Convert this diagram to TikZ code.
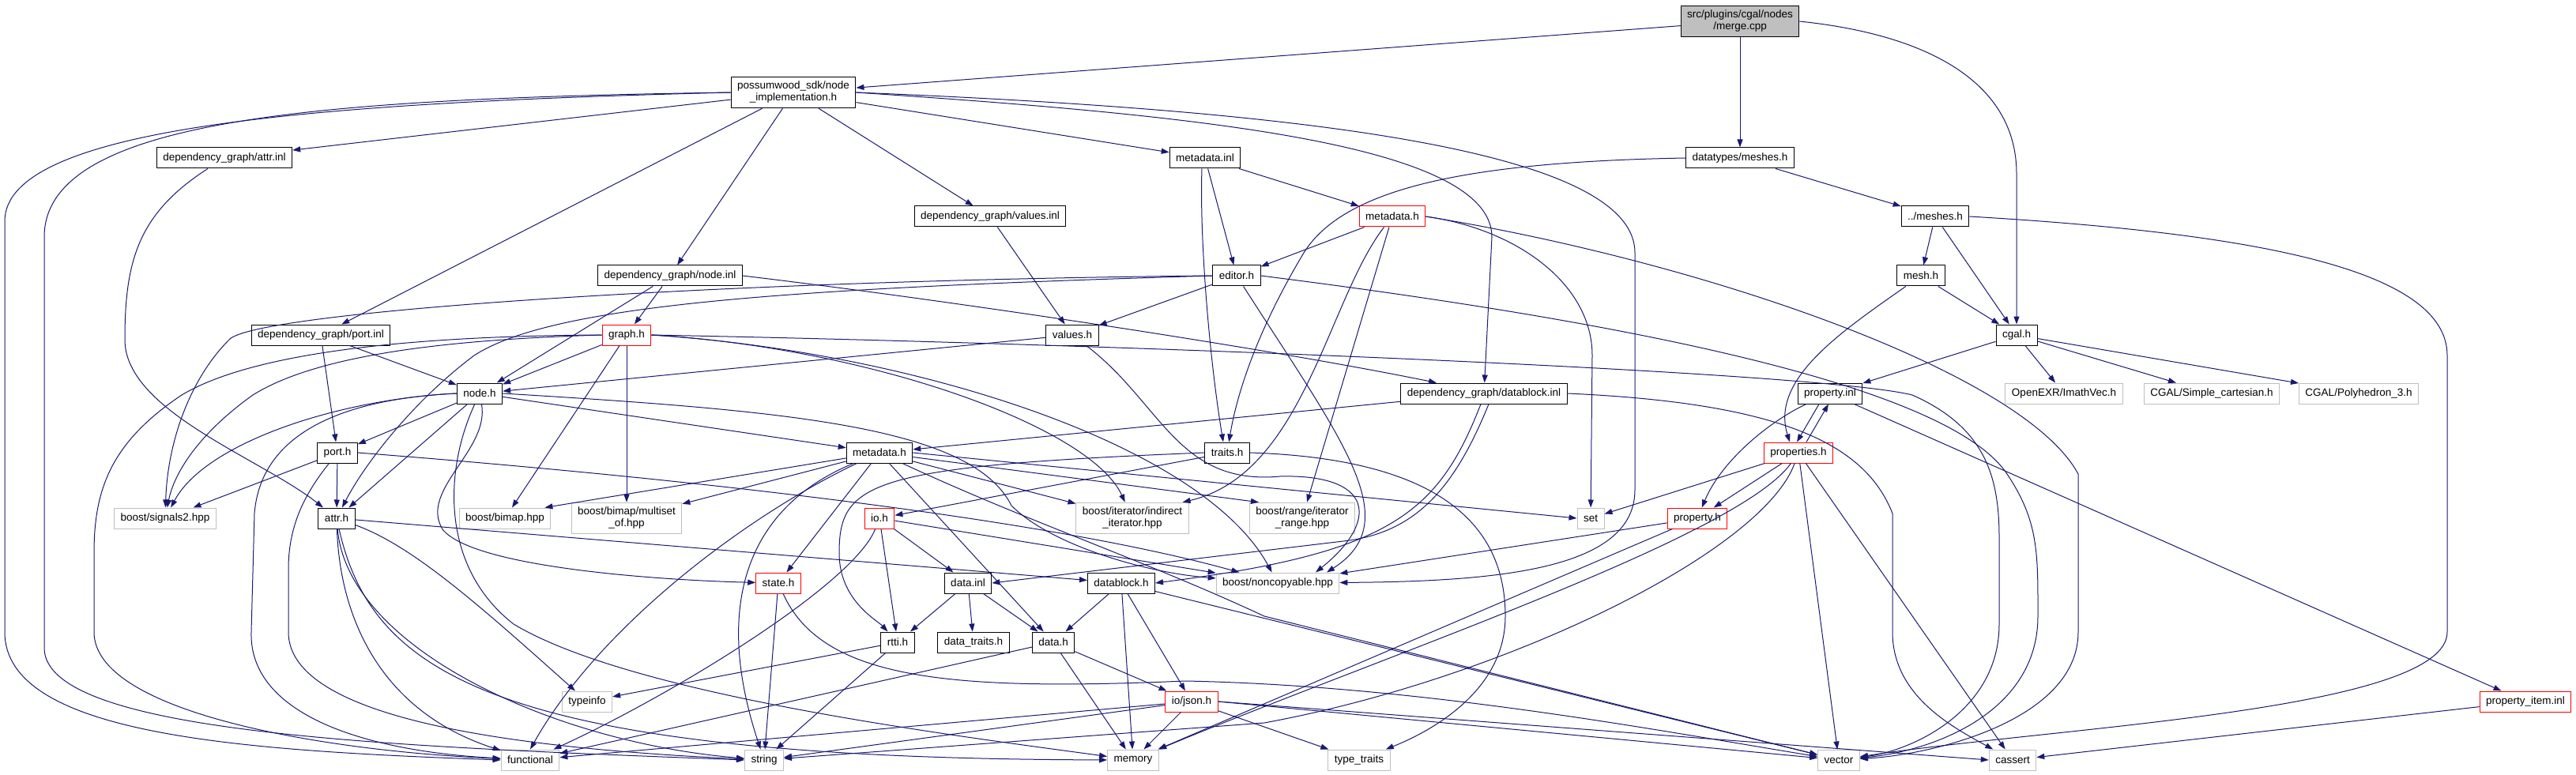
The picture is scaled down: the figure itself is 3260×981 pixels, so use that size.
\documentclass[tikz,border=0pt]{standalone}
\usepackage{fontspec}
\setmainfont{Liberation Sans}
\usepackage{tikz}
\usetikzlibrary{arrows.meta, positioning}
\definecolor{edgeblue}{HTML}{191970}
\definecolor{extgray}{HTML}{BFBFBF}

\begin{document}
\begin{tikzpicture}[x=1pt, y=-1pt,
    hdr/.style={draw=black, fill=white, line width=1pt, font=\fontsize{13.5}{15}\selectfont,
      inner xsep=8pt, inner ysep=2pt, minimum height=26pt, align=center},
    hdrred/.style={hdr, draw=red},
    syshdr/.style={hdr, draw=extgray},
    srcfile/.style={hdr, fill=extgray},
    two/.style={inner ysep=6pt},
    incl/.style={draw=edgeblue, line width=1pt, -{Triangle[length=10pt, width=7pt]}}]
    \useasboundingbox (0,0) rectangle (3260,981);

    \node[srcfile, two] (merge) at (2202,27) {src/plugins/cgal/nodes\\/merge.cpp};
    \node[hdr, two] (nodeimpl) at (1004,117) {possumwood\_sdk/node\\\_implementation.h};
    \node[hdr] (attrinl) at (284,200) {dependency\_graph/attr.inl};
    \node[hdr] (metainl) at (1525,200) {metadata.inl};
    \node[hdr] (dtmeshes) at (2202,200) {datatypes/meshes.h};
    \node[hdr] (valuesinl) at (1253,274) {dependency\_graph/values.inl};
    \node[hdrred] (metared) at (1762,274) {metadata.h};
    \node[hdr] (meshes) at (2449,274) {../meshes.h};
    \node[hdr] (nodeinl) at (848,349) {dependency\_graph/node.inl};
    \node[hdr] (editor) at (1565,349) {editor.h};
    \node[hdr] (mesh) at (2431,349) {mesh.h};
    \node[hdr] (portinl) at (406,424) {dependency\_graph/port.inl};
    \node[hdrred] (graph) at (793,424) {graph.h};
    \node[hdr] (values) at (1357,424) {values.h};
    \node[hdr] (cgal) at (2552,424) {cgal.h};
    \node[hdr] (nodeh) at (607,498) {node.h};
    \node[hdr] (datablockinl) at (1878,498) {dependency\_graph/datablock.inl};
    \node[hdr] (propinl) at (2316,498) {property.inl};
    \node[syshdr] (imathvec) at (2612,498) {OpenEXR/ImathVec.h};
    \node[syshdr] (simplecart) at (2799,498) {CGAL/Simple\_cartesian.h};
    \node[syshdr] (polyhedron) at (2985,498) {CGAL/Polyhedron\_3.h};
    \node[hdr] (porth) at (427,573) {port.h};
    \node[hdr] (metah) at (1113,573) {metadata.h};
    \node[hdr] (traits) at (1553,573) {traits.h};
    \node[hdrred] (properties) at (2276,573) {properties.h};
    \node[syshdr] (signals) at (209,656) {boost/signals2.hpp};
    \node[hdr] (attrh) at (426,656) {attr.h};
    \node[syshdr] (bimap) at (639,656) {boost/bimap.hpp};
    \node[syshdr, two] (multiset) at (793,656) {boost/bimap/multiset\\\_of.hpp};
    \node[hdrred] (ioh) at (1113,656) {io.h};
    \node[syshdr, two] (indirect) at (1433,656) {boost/iterator/indirect\\\_iterator.hpp};
    \node[syshdr, two] (itrange) at (1648,656) {boost/range/iterator\\\_range.hpp};
    \node[syshdr] (set) at (2013,656) {set};
    \node[hdrred] (propertyh) at (2148,656) {property.h};
    \node[hdrred] (state) at (985,738) {state.h};
    \node[hdr] (datainl) at (1225,738) {data.inl};
    \node[hdr] (datablockh) at (1419,738) {datablock.h};
    \node[syshdr] (noncopy) at (1617,738) {boost/noncopyable.hpp};
    \node[hdr] (rtti) at (1136,813) {rtti.h};
    \node[hdr] (datatraits) at (1232,813) {data\_traits.h};
    \node[hdr] (datah) at (1333,813) {data.h};
    \node[syshdr] (typeinfo) at (743,888) {typeinfo};
    \node[hdrred] (json) at (1508,888) {io/json.h};
    \node[hdrred] (propitem) at (3196,888) {property\_item.inl};
    \node[syshdr] (functional) at (671,962) {functional};
    \node[syshdr] (string) at (967,962) {string};
    \node[syshdr] (memory) at (1434,962) {memory};
    \node[syshdr] (typetraits) at (1720,962) {type\_traits};
    \node[syshdr] (vector) at (2327,962) {vector};
    \node[syshdr] (cassert) at (2547,962) {cassert};

    \draw[incl] (merge) to (nodeimpl);
    \draw[incl] (merge) to (dtmeshes);
    \draw[incl] (merge.east) .. controls (2450,45) and (2552,110) .. (2552,220) -- (cgal);

    \draw[incl] (nodeimpl) to (attrinl);
    \draw[incl] (nodeimpl.west) .. controls (400,130) and (6,160) .. (6,280) -- (6,800) .. controls (6,930) and (300,950) .. (functional.west);
    \draw[incl] (nodeimpl.west) .. controls (400,125) and (56,150) .. (56,300) -- (56,820) .. controls (56,930) and (500,945) .. (string.west);
    \draw[incl] (nodeimpl) to (portinl);
    \draw[incl] (nodeimpl) to (nodeinl);
    \draw[incl] (nodeimpl) to (valuesinl);
    \draw[incl] (nodeimpl) to (metainl);
    \draw[incl] (nodeimpl.east) .. controls (1500,145) and (1888,180) .. (1888,300) -- (datablockinl);
    \draw[incl] (nodeimpl.east) .. controls (1650,140) and (2069,190) .. (2069,320) -- (2069,620) .. controls (2069,720) and (1900,736) .. (noncopy);

    \draw[incl] (attrinl) .. controls (175,270) and (158,330) .. (158,430) .. controls (158,520) and (330,580) .. (attrh);

    \draw[incl] (dtmeshes) to (meshes);
    \draw[incl] (dtmeshes.west) .. controls (1850,205) and (1700,240) .. (1650,320) .. controls (1590,420) and (1565,500) .. (traits);

    \draw[incl] (metainl) to (metared);
    \draw[incl] (metainl) to (editor);
    \draw[incl] ([xshift=-4pt]metainl.south) .. controls (1518,300) and (1530,450) .. ([xshift=-5pt]traits.north);

    \draw[incl] (valuesinl) to (values);

    \draw[incl] (metared) to (editor);
    \draw[incl] (metared) .. controls (1680,380) and (1650,600) .. ([xshift=-8pt]indirect.north east);
    \draw[incl] (metared) to (itrange);
    \draw[incl] (metared.east) .. controls (1920,290) and (2015,360) .. (2015,450) -- (set);
    \draw[incl] (metared.east) .. controls (2150,330) and (2560,470) .. (2630,600) -- (2630,800) .. controls (2630,910) and (2450,955) .. (vector);

    \draw[incl] (meshes) to (mesh);
    \draw[incl] (meshes) to (cgal);
    \draw[incl] (meshes.east) .. controls (2850,295) and (3097,340) .. (3097,450) -- (3097,800) .. controls (3097,900) and (2600,920) .. (vector);

    \draw[incl] (nodeinl) to (nodeh);
    \draw[incl] (nodeinl) to (graph);
    \draw[incl] (nodeinl.east) .. controls (1200,380) and (1600,440) .. ([xshift=-60pt]datablockinl.north);

    \draw[incl] (editor.west) .. controls (900,355) and (320,395) .. (290,430) .. controls (240,480) and (212,560) .. (signals);
    \draw[incl] (editor.west) .. controls (1000,365) and (700,385) .. (600,450) .. controls (520,510) and (460,590) .. (attrh);
    \draw[incl] (editor) to (values);
    \draw[incl] (editor) .. controls (1700,560) and (1780,660) .. ([xshift=62pt]noncopy.north);
    \draw[incl] (editor.east) .. controls (2000,400) and (2460,480) .. (2540,600) .. controls (2580,660) and (2579,700) .. (2579,780) .. controls (2579,900) and (2450,950) .. (vector);

    \draw[incl] (graph) to (nodeh);
    \draw[incl] (graph) to (bimap);
    \draw[incl] (graph) to (multiset);
    \draw[incl] (graph.west) .. controls (560,430) and (400,450) .. (320,500) .. controls (250,550) and (220,600) .. (signals);
    \draw[incl] (graph.west) .. controls (560,425) and (330,440) .. (230,500) .. controls (140,560) and (119,620) .. (119,700) -- (119,800) .. controls (119,900) and (400,950) .. (functional);
    \draw[incl] (graph.east) .. controls (1100,440) and (1380,540) .. (indirect);
    \draw[incl] (graph.east) .. controls (1150,445) and (1520,560) .. (noncopy);
    \draw[incl] (graph.east) .. controls (1400,435) and (2300,470) .. (2420,500) .. controls (2510,540) and (2530,600) .. (2530,680) -- (2530,790) .. controls (2530,900) and (2420,950) .. (vector);

    \draw[incl] (values) to (nodeh);
    \draw[incl] (values) .. controls (1470,510) and (1490,615) .. (1620,603) .. controls (1740,600) and (1745,660) .. ([xshift=48pt]noncopy.north);

    \draw[incl] (portinl) to (nodeh);
    \draw[incl] (portinl) to (porth);

    \draw[incl] (nodeh) to (porth);
    \draw[incl] (nodeh) to (attrh);
    \draw[incl] (nodeh.west) .. controls (430,505) and (260,560) .. (signals);
    \draw[incl] (nodeh) to (metah);
    \draw[incl] (nodeh) .. controls (620,570) and (530,620) .. (560,670) .. controls (600,720) and (850,735) .. (state);
    \draw[incl] (nodeh) .. controls (560,600) and (560,720) .. (650,790) .. controls (800,880) and (1200,930) .. (memory);
    \draw[incl] (nodeh.west) .. controls (430,505) and (330,550) .. (322,650) -- (318,800) .. controls (315,900) and (450,950) .. (functional);
    \draw[incl] (nodeh.east) .. controls (1000,520) and (1230,540) .. (1280,640) .. controls (1330,690) and (1450,725) .. (noncopy);

    \draw[incl] (porth) to (signals);
    \draw[incl] (porth) to (attrh);
    \draw[incl] (porth) .. controls (390,620) and (365,660) .. (365,720) -- (365,800) .. controls (365,900) and (600,945) .. (string);
    \draw[incl] (porth.east) .. controls (800,600) and (1300,650) .. (noncopy);

    \draw[incl] (metah) to ([xshift=-8pt]bimap.north east);
    \draw[incl] (metah) to (multiset);
    \draw[incl] (metah) to (state);
    \draw[incl] (metah) .. controls (950,650) and (760,790) .. (functional.north);
    \draw[incl] (metah) .. controls (950,640) and (900,760) .. (string);
    \draw[incl] (metah) to (datah);
    \draw[incl] (metah) to (indirect);
    \draw[incl] (metah) to ([xshift=12pt]itrange.north west);
    \draw[incl] (metah.east) to (set.west);
    \draw[incl] (metah) .. controls (1300,660) and (1450,710) .. (1600,780) -- (vector);

    \draw[incl] (traits) to (ioh);
    \draw[incl] (traits.west) .. controls (1100,590) and (1062,610) .. (1062,700) .. controls (1062,760) and (1110,785) .. (rtti);
    \draw[incl] (traits.east) .. controls (1800,580) and (1905,650) .. (1905,780) .. controls (1905,880) and (1800,930) .. (typetraits);

    \draw[incl] (properties) .. controls (2230,700) and (1900,860) .. (1600,915) -- (string);

    \draw[incl] (datablockinl) to (metah);
    \draw[incl] ([xshift=-4pt]datablockinl.south) .. controls (1820,650) and (1760,700) .. (datablockh.east);
    \draw[incl] ([xshift=6pt]datablockinl.south) .. controls (1840,620) and (1790,675) .. (1700,685) -- (datainl.east);
    \draw[incl] (datablockinl.east) .. controls (2250,510) and (2360,560) .. (2395,650) -- (2395,800) .. controls (2395,880) and (2470,920) .. (cassert);

    \draw[incl] (attrh) .. controls (520,690) and (600,760) .. (typeinfo);
    \draw[incl] (attrh) .. controls (430,780) and (480,900) .. (functional);
    \draw[incl] (attrh) .. controls (470,850) and (620,960) .. (memory);
    \draw[incl] (attrh) .. controls (440,820) and (700,940) .. (string);
    \draw[incl] (attrh) to (datablockh);

    \draw[incl] (ioh) to (rtti);
    \draw[incl] (ioh) to (datainl);
    \draw[incl] (ioh) .. controls (1080,740) and (850,880) .. (functional);
    \draw[incl] (ioh) to (noncopy);

    \draw[incl] (state) to (string);
    \draw[incl] (state) .. controls (1040,860) and (1200,875) .. (1500,862) .. controls (1800,868) and (2100,925) .. (vector);

    \draw[incl] (datainl) to (rtti);
    \draw[incl] (datainl) to (datatraits);
    \draw[incl] (datainl) to (datah);

    \draw[incl] (datablockh) to (datah);
    \draw[incl] (datablockh) to (memory);
    \draw[incl] (datablockh) to (json);
    \draw[incl] (datablockh) to (vector);

    \draw[incl] (datah) to (memory);
    \draw[incl] (datah) to (json);
    \draw[incl] (datah) to (functional);

    \draw[incl] (rtti) to (typeinfo);
    \draw[incl] (rtti) to (string);

    \draw[incl] (json) to (functional);
    \draw[incl] (json) to (string);
    \draw[incl] (json) to (memory);
    \draw[incl] (json) to (typetraits);
    \draw[incl] (json.east) to (vector);
    \draw[incl] (json.east) to (cassert.west);

    \draw[incl] (mesh) to (cgal);
    \draw[incl] (mesh) .. controls (2330,420) and (2240,480) .. ([xshift=-11pt]properties.north);

    \draw[incl] (cgal) to (propinl);
    \draw[incl] (cgal) to (imathvec);
    \draw[incl] (cgal) to (simplecart);
    \draw[incl] (cgal) to (polyhedron);

    \draw[incl] ([xshift=-14pt]propinl.south) to ([xshift=-2pt]properties.north);
    \draw[incl] ([xshift=10pt]properties.north) to ([xshift=-2pt]propinl.south);
    \draw[incl] (propinl) .. controls (2245,530) and (2180,580) .. (propertyh);
    \draw[incl] (propinl) to (propitem);

    \draw[incl] (properties) to (set);
    \draw[incl] (properties) to (propertyh);
    \draw[incl] (properties) .. controls (2200,680) and (1750,830) .. (memory);
    \draw[incl] (properties) to (vector);
    \draw[incl] (properties) to (cassert);

    \draw[incl] (propertyh) to (noncopy);
    \draw[incl] (propertyh) to (memory);

    \draw[incl] (propitem) to (cassert);
\end{tikzpicture}
\end{document}
